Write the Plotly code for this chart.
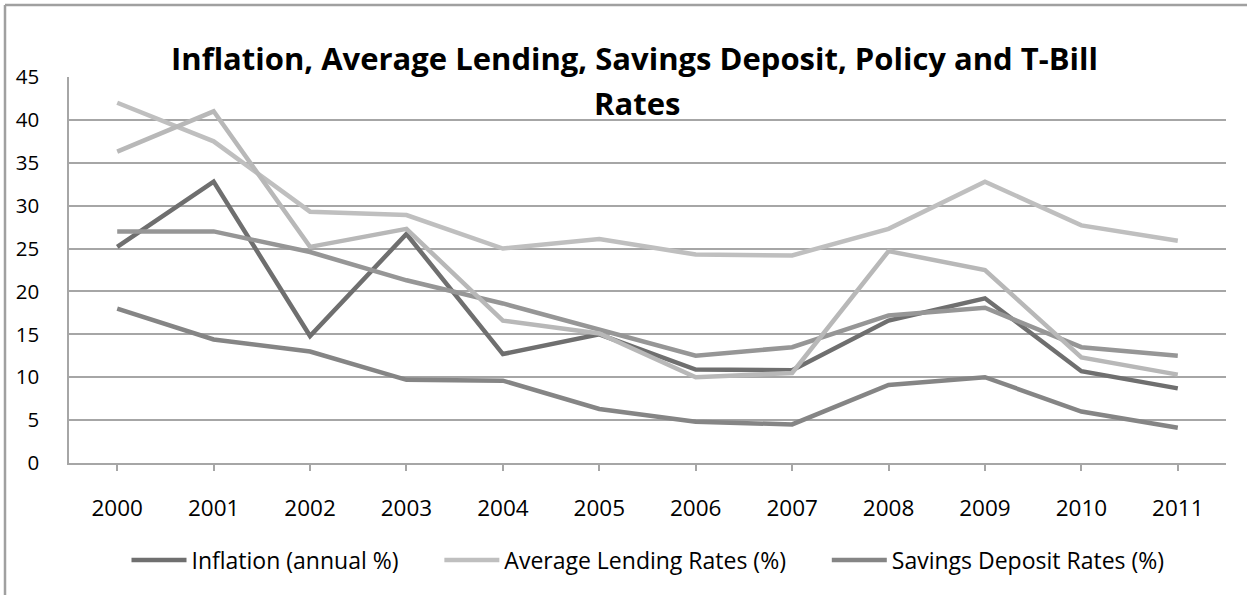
import plotly.graph_objects as go

years = [2000, 2001, 2002, 2003, 2004, 2005, 2006, 2007, 2008, 2009, 2010, 2011]
inflation = [25.2, 32.8, 14.8, 26.7, 12.7, 15.0, 10.9, 10.8, 16.6, 19.2, 10.7, 8.7]
avg_lending = [42.0, 37.5, 29.3, 28.9, 25.0, 26.1, 24.3, 24.2, 27.3, 32.8, 27.7, 25.9]
savings_deposit = [18.0, 14.4, 13.0, 9.7, 9.6, 6.3, 4.8, 4.5, 9.1, 10.0, 6.0, 4.1]
policy_rate = [27.0, 27.0, 24.6, 21.3, 18.6, 15.6, 12.5, 13.5, 17.2, 18.1, 13.5, 12.5]
tbill_rate = [36.3, 41.0, 25.2, 27.3, 16.6, 15.1, 10.0, 10.5, 24.7, 22.5, 12.3, 10.3]
y_ticks = [0, 5, 10, 15, 20, 25, 30, 35, 40, 45]

FONT = "Open Sans"
PAD = "&nbsp;" * 6

series = [
    ("Inflation (annual %)" + PAD, inflation, "#6f6f6f", True),
    ("Average Lending Rates (%)" + PAD, avg_lending, "#bfbfbf", True),
    ("Savings Deposit Rates (%)", savings_deposit, "#858585", True),
    ("Policy Rate (%)", policy_rate, "#969696", False),
    ("T-Bill Rate (%)", tbill_rate, "#b8b8b8", False),
]

fig = go.Figure()
for name, vals, color, show in series:
    fig.add_trace(go.Scatter(
        x=years, y=vals, mode="lines", name=name, showlegend=show,
        line=dict(color=color, width=4.5),
    ))

W, H = 1247, 595
ml, mr, mt, mb = 69, 21, 77, 132
pw, ph = W - ml - mr, H - mt - mb

fig.update_layout(
    width=W, height=H,
    margin=dict(l=ml, r=mr, t=mt, b=mb),
    paper_bgcolor="white", plot_bgcolor="white",
    font=dict(family=FONT, color="#000000", size=19),
    showlegend=True,
    legend=dict(orientation="h", x=(648 - ml) / pw, xanchor="center",
                y=(mt + ph - 560) / ph, yanchor="middle",
                font=dict(size=23, family=FONT), itemwidth=55,
                traceorder="normal"),
    xaxis=dict(
        range=[1999.5, 2011.5], tickmode="array", tickvals=years,
        ticktext=[str(y) for y in years],
        showgrid=False, zeroline=False,
        showline=True, linecolor="#a6a6a6", linewidth=1.5,
        ticks="outside", ticklen=6, tickcolor="#a6a6a6", tickwidth=1.5,
        ticklabelstandoff=18,
        tickfont=dict(size=22.5, family=FONT),
    ),
    yaxis=dict(
        range=[0, 45], tickmode="array", tickvals=y_ticks,
        showgrid=True, gridcolor="#a6a6a6", gridwidth=1.5,
        zeroline=False, showline=True, linecolor="#a6a6a6", linewidth=1.5,
        ticks="", ticklabelstandoff=24,
        tickfont=dict(size=20.5, family=FONT),
    ),
)

# title lines
fig.add_annotation(text="<b>Inflation, Average Lending, Savings Deposit, Policy and T-Bill</b>",
                   xref="paper", yref="paper", x=(634 - ml) / pw, y=(mt + ph - 58) / ph,
                   xanchor="center", yanchor="middle", showarrow=False,
                   font=dict(size=31, family=FONT, color="#000000"))
fig.add_annotation(text="<b>Rates</b>",
                   xref="paper", yref="paper", x=(637 - ml) / pw, y=(mt + ph - 103) / ph,
                   xanchor="center", yanchor="middle", showarrow=False,
                   font=dict(size=31, family=FONT, color="#000000"))

# outer chart border (left and top)
x_left = (5 - ml) / pw
y_top = (mt + ph - 5) / ph
y_bot = (mt + ph - H - 2) / ph
fig.add_shape(type="line", xref="paper", yref="paper", x0=x_left, x1=x_left, y0=y_bot, y1=y_top,
              line=dict(color="#a0a0a0", width=2.5))
fig.add_shape(type="line", xref="paper", yref="paper", x0=x_left, x1=(W + 5 - ml) / pw, y0=y_top, y1=y_top,
              line=dict(color="#a0a0a0", width=2.5))

fig.write_html("out.html")
